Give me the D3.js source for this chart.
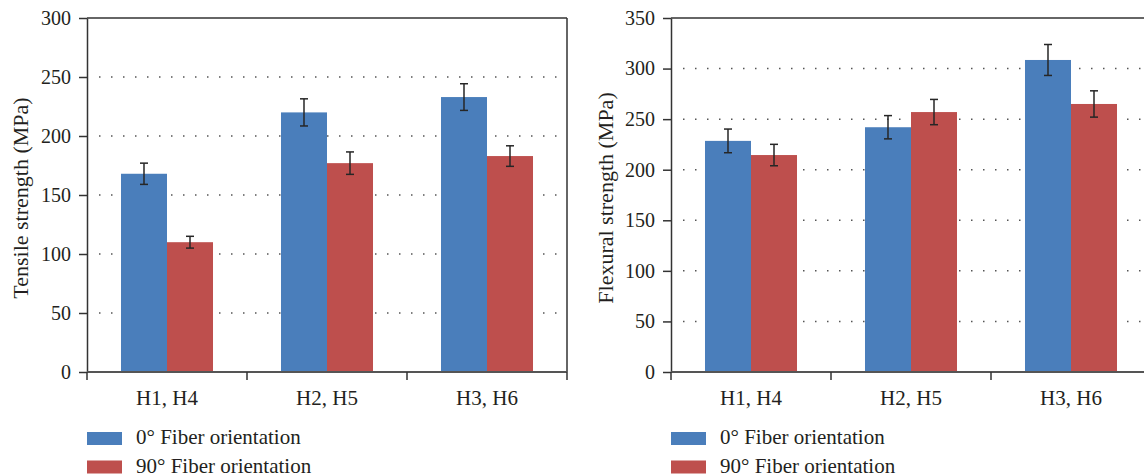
<!DOCTYPE html>
<html>
<head>
<meta charset="utf-8">
<script src="https://cdn.jsdelivr.net/npm/d3@7"></script>
<style>
  body { margin: 0; background: #fff; }
  text { font-family: "Liberation Serif", "DejaVu Serif", serif; fill: #231f20; }
</style>
</head>
<body>
<div id="chart-area"></div>
<script>
var categories = ["H1, H4", "H2, H5", "H3, H6"];
var seriesNames = ["0\u00b0 Fiber orientation", "90\u00b0 Fiber orientation"];
var colors = ["#4a7ebb", "#be4f4d"];

// tensile strength (MPa) and error
var tensile0 = [168, 220, 233];
var tensile90 = [110, 177, 183];
var tensileErr0 = [9, 11.5, 11.3];
var tensileErr90 = [5, 9.5, 8.7];

// flexural strength (MPa) and error
var flex0 = [228.5, 242, 308.5];
var flex90 = [214.5, 257, 265];
var flexErr0 = [11.7, 11.5, 15.3];
var flexErr90 = [10.6, 12.5, 13];

var tensileTicks = [0, 50, 100, 150, 200, 250, 300];
var flexTicks = [0, 50, 100, 150, 200, 250, 300, 350];

var svg = d3.select("#chart-area").append("svg")
	.attr("width", 1144)
	.attr("height", 474);

var plotTop = 18, plotBottom = 372;

function drawChart(opt) {
	var g = svg.append("g");

	var x = d3.scaleBand()
		.domain(categories)
		.range([opt.left, opt.right])
		.padding(0);

	var x1 = d3.scaleBand()
		.domain([0, 1])
		.range([0, x.bandwidth()])
		.paddingInner(0)
		.paddingOuter(0.739);

	var y = d3.scaleLinear()
		.domain([0, opt.max])
		.range([plotBottom, plotTop]);

	// dotted gridlines
	g.selectAll(".grid")
		.data(opt.ticks.filter(function(t){ return t > 0 && t < opt.max; }))
		.enter().append("line")
			.attr("x1", opt.left + 12)
			.attr("x2", opt.right - 6)
			.attr("y1", function(d){ return y(d); })
			.attr("y2", function(d){ return y(d); })
			.attr("stroke", "#555")
			.attr("stroke-width", 1.5)
			.attr("stroke-dasharray", "1.5,10.5");

	// bars
	var rows = categories.map(function(c, i){
		return [
			{ cat: c, s: 0, v: opt.v0[i], e: opt.e0[i] },
			{ cat: c, s: 1, v: opt.v90[i], e: opt.e90[i] }
		];
	});
	var flat = [].concat.apply([], rows);

	g.selectAll("rect.bar")
		.data(flat)
		.enter().append("rect")
			.attr("class", "bar")
			.attr("x", function(d){ return x(d.cat) + x1(d.s); })
			.attr("y", function(d){ return y(d.v); })
			.attr("width", x1.bandwidth())
			.attr("height", function(d){ return y(0) - y(d.v); })
			.attr("fill", function(d){ return colors[d.s]; });

	// error bars
	var err = g.selectAll("g.err")
		.data(flat)
		.enter().append("g")
			.attr("class", "err")
			.attr("stroke", "#262626")
			.attr("stroke-width", 1.5);
	var cx = function(d){ return x(d.cat) + x1(d.s) + x1.bandwidth() / 2; };
	err.append("line")
		.attr("x1", cx).attr("x2", cx)
		.attr("y1", function(d){ return y(d.v + d.e); })
		.attr("y2", function(d){ return y(d.v - d.e); });
	err.append("line")
		.attr("x1", function(d){ return cx(d) - 4; })
		.attr("x2", function(d){ return cx(d) + 4; })
		.attr("y1", function(d){ return y(d.v + d.e); })
		.attr("y2", function(d){ return y(d.v + d.e); });
	err.append("line")
		.attr("x1", function(d){ return cx(d) - 4; })
		.attr("x2", function(d){ return cx(d) + 4; })
		.attr("y1", function(d){ return y(d.v - d.e); })
		.attr("y2", function(d){ return y(d.v - d.e); });

	// frame: top and right
	g.append("line")
		.attr("x1", opt.left).attr("x2", opt.right)
		.attr("y1", plotTop).attr("y2", plotTop)
		.attr("stroke", "#333").attr("stroke-width", 1.5);
	g.append("line")
		.attr("x1", opt.right).attr("x2", opt.right)
		.attr("y1", plotTop).attr("y2", plotBottom)
		.attr("stroke", "#333").attr("stroke-width", 1.5);

	// y axis
	var yAxis = d3.axisLeft(y)
		.tickValues(opt.ticks)
		.tickSize(8)
		.tickPadding(8)
		.tickSizeOuter(0);
	var ya = g.append("g")
		.attr("class", "y-axis")
		.attr("transform", "translate(" + opt.left + ",0)")
		.call(yAxis);
	ya.select(".domain").attr("stroke", "#333").attr("stroke-width", 1.5);
	ya.selectAll(".tick line").attr("stroke", "#333").attr("stroke-width", 1.5);
	ya.selectAll(".tick text")
		.attr("font-size", "20px")
		.attr("font-family", "Liberation Serif")
		.attr("fill", "#231f20");

	// x axis: line, ticks at category boundaries, labels at centers
	g.append("line")
		.attr("x1", opt.left).attr("x2", opt.right)
		.attr("y1", plotBottom).attr("y2", plotBottom)
		.attr("stroke", "#555").attr("stroke-width", 2);
	var bounds = categories.map(function(c){ return x(c); }).concat([opt.right]);
	g.selectAll(".xtick")
		.data(bounds)
		.enter().append("line")
			.attr("x1", function(d){ return d; })
			.attr("x2", function(d){ return d; })
			.attr("y1", plotBottom)
			.attr("y2", plotBottom + 8)
			.attr("stroke", "#333")
			.attr("stroke-width", 1.5);
	g.selectAll(".xlabel")
		.data(categories)
		.enter().append("text")
			.attr("x", function(d){ return x(d) + x.bandwidth() / 2; })
			.attr("y", 405)
			.attr("text-anchor", "middle")
			.attr("font-size", "21px")
			.text(function(d){ return d; });

	// y title
	g.append("text")
		.attr("transform", "translate(" + opt.titleX + "," + 198 + ") rotate(-90)")
		.attr("text-anchor", "middle")
		.attr("dy", "0.35em")
		.attr("font-size", "22px")
		.text(opt.title);

	// legend
	var leg = g.selectAll(".legend")
		.data(seriesNames)
		.enter().append("g")
			.attr("transform", function(d, i){ return "translate(" + opt.left + "," + (432 + i * 28.5) + ")"; });
	leg.append("rect")
		.attr("width", 35)
		.attr("height", 13)
		.attr("fill", function(d, i){ return colors[i]; });
	leg.append("text")
		.attr("x", 49)
		.attr("y", 12)
		.attr("font-size", "21px")
		.text(function(d){ return d; });
}

drawChart({
	left: 87, right: 567, max: 300, ticks: tensileTicks,
	v0: tensile0, v90: tensile90, e0: tensileErr0, e90: tensileErr90,
	title: "Tensile strength (MPa)", titleX: 20
});

drawChart({
	left: 671, right: 1151, max: 350, ticks: flexTicks,
	v0: flex0, v90: flex90, e0: flexErr0, e90: flexErr90,
	title: "Flexural strength (MPa)", titleX: 605
});
</script>
</body>
</html>
